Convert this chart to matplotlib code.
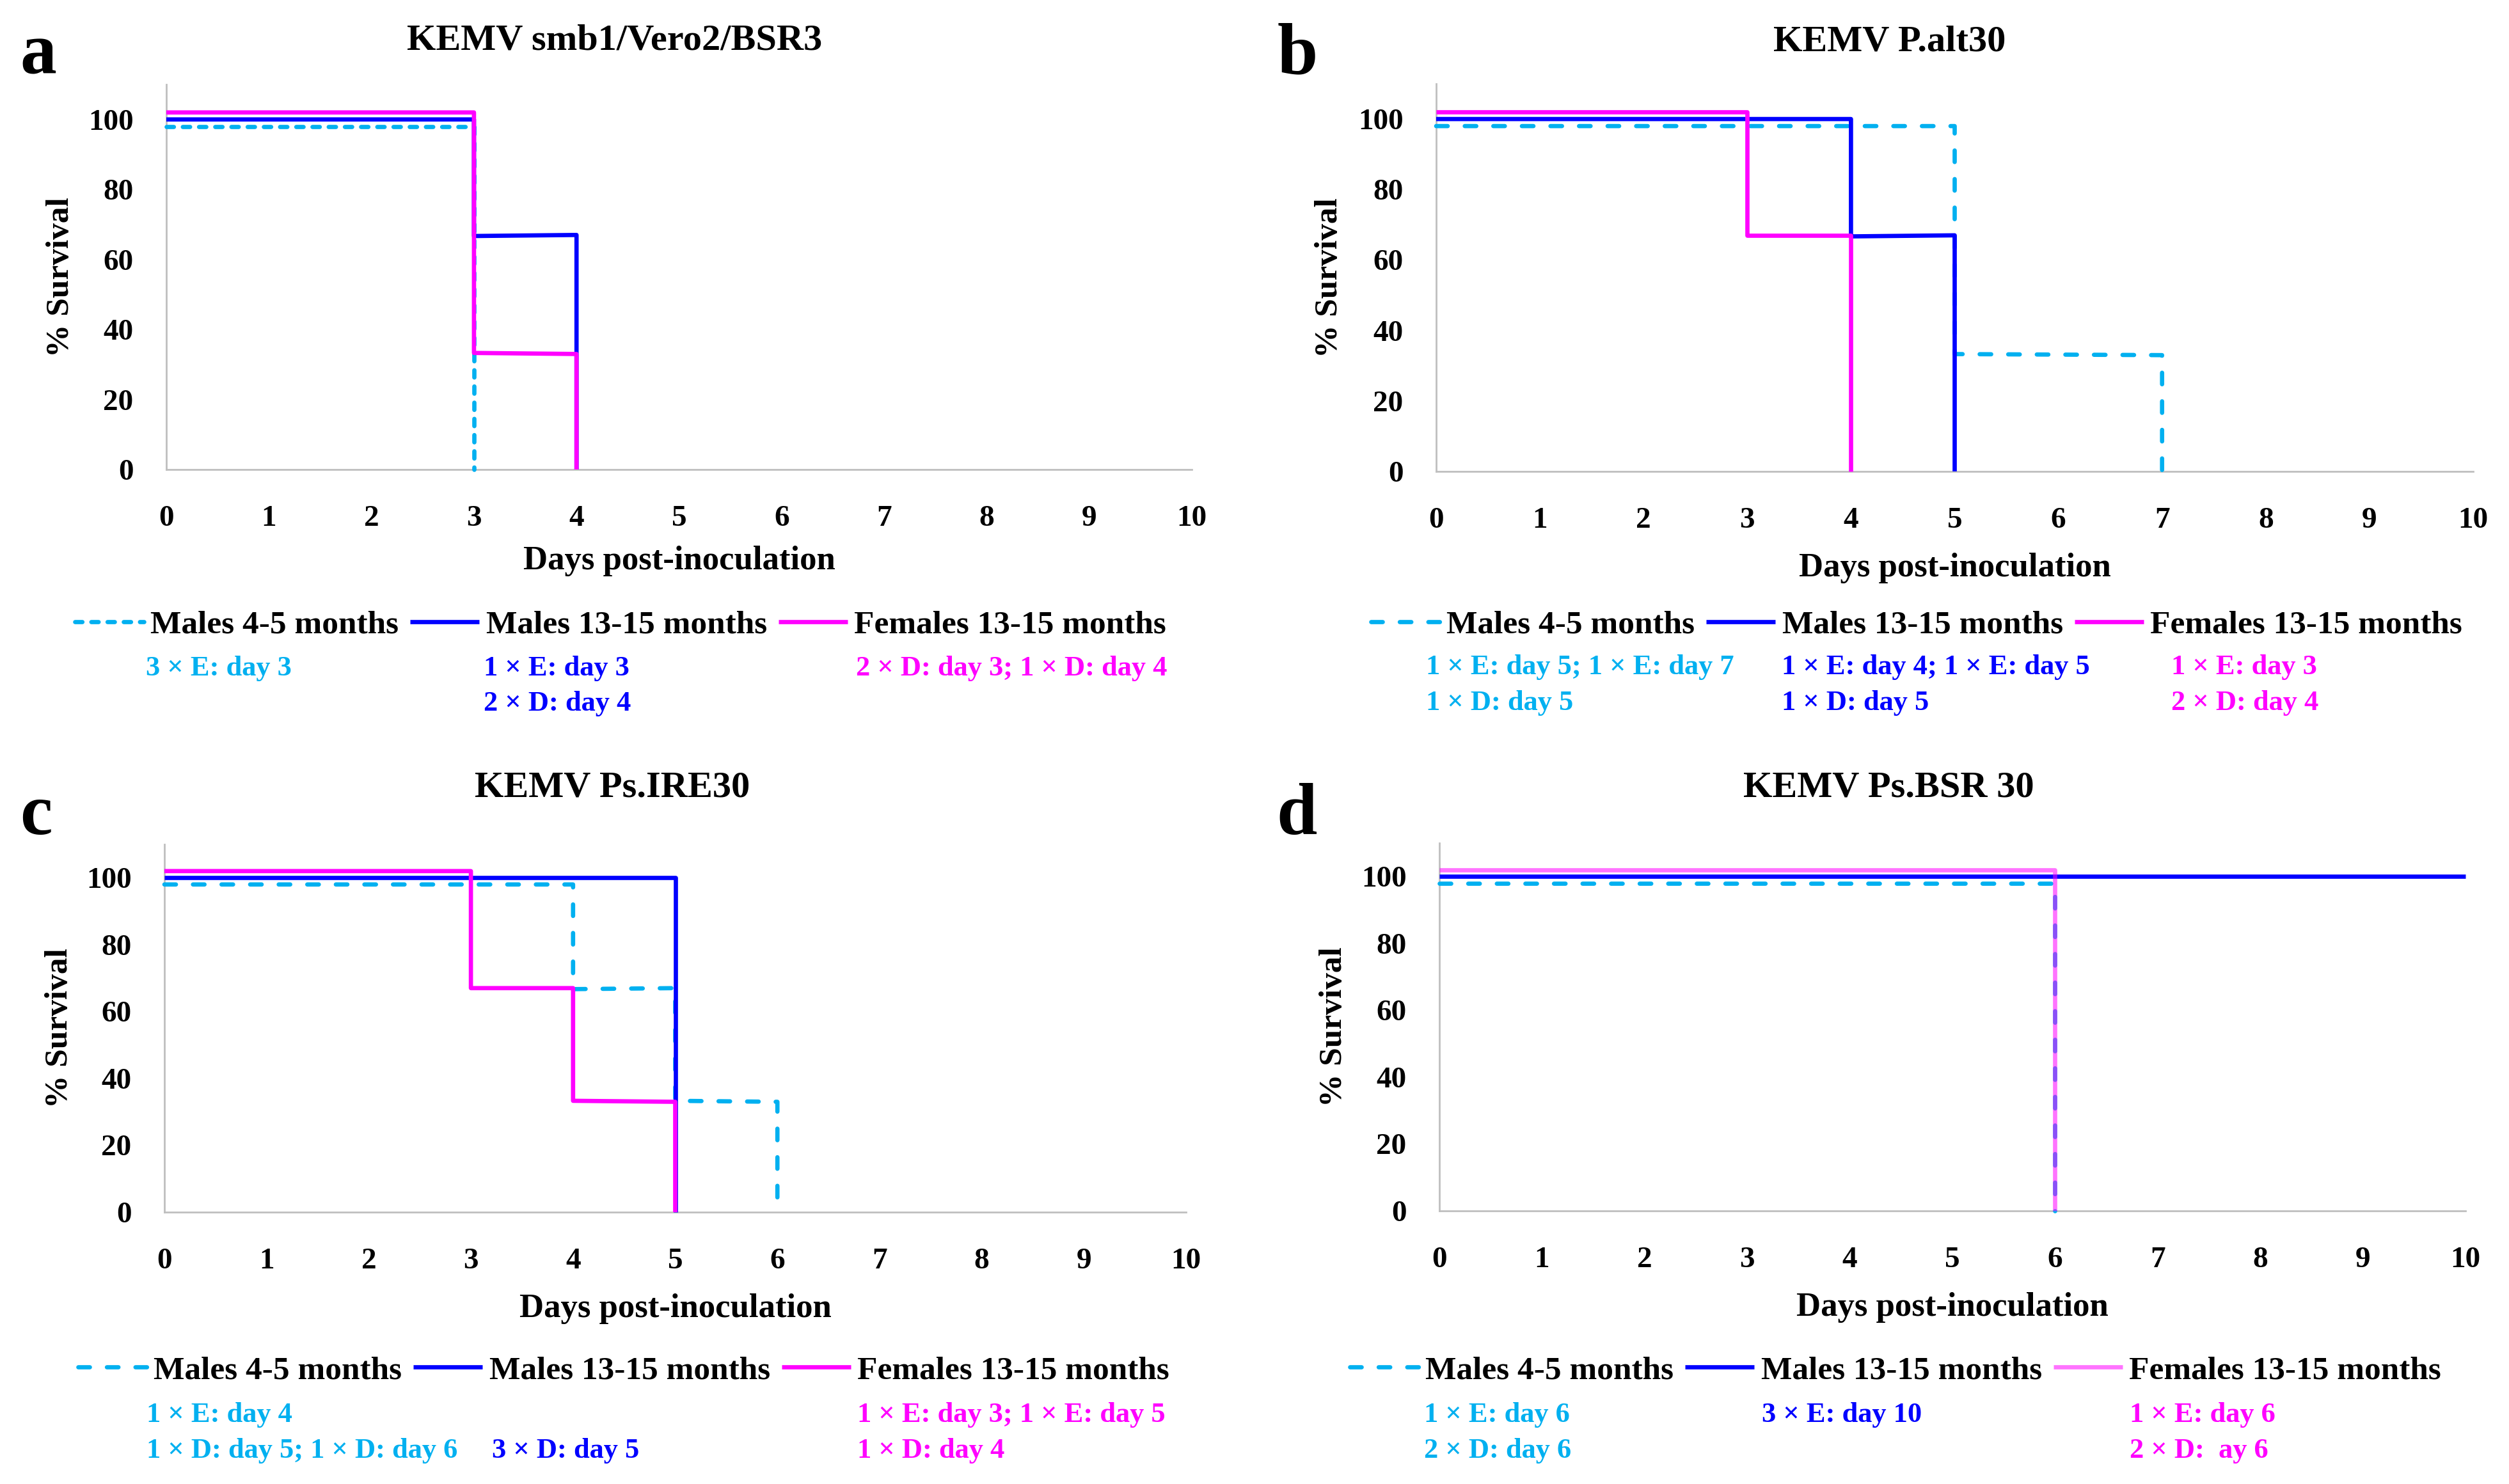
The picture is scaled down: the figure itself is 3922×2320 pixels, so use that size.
import matplotlib
matplotlib.use("Agg")
import matplotlib.pyplot as plt

plt.rcParams['font.family'] = ['Liberation Serif', 'DejaVu Serif']
plt.rcParams['font.weight'] = 'bold'
plt.rcParams['axes.labelweight'] = 'bold'

# survival data (days, % survival), small offsets keep overlapping lines visible
a_days_m45 = [0, 3, 3]
a_surv_m45 = [98, 98, 0]
a_days_m1315 = [0, 3, 3, 4, 4]
a_surv_m1315 = [100, 100, 66.7, 67, 0]
a_days_f1315 = [0, 3, 3, 4, 4]
a_surv_f1315 = [102, 102, 33.3, 33, 0]

b_days_m45 = [0, 5, 5, 7, 7]
b_surv_m45 = [98, 98, 33.3, 33, 0]
b_days_m1315 = [0, 4, 4, 5, 5]
b_surv_m1315 = [100, 100, 66.7, 67, 0]
b_days_f1315 = [0, 3, 3, 4, 4]
b_surv_f1315 = [102, 102, 67, 67, 0]

c_days_m45 = [0, 4, 4, 5, 5, 6, 6]
c_surv_m45 = [98, 98, 66.7, 67, 33.3, 33, 0]
c_days_m1315 = [0, 5, 5]
c_surv_m1315 = [100, 100, 0]
c_days_f1315 = [0, 3, 3, 4, 4, 5, 5]
c_surv_f1315 = [102, 102, 67, 67, 33.3, 33, 0]

d_days_m45 = [0, 6, 6]
d_surv_m45 = [98, 98, 0]
d_days_m1315 = [0, 10]
d_surv_m1315 = [100, 100]
d_days_f1315 = [0, 6, 6]
d_surv_f1315 = [102, 102, 0]

titles = ['KEMV smb1/Vero2/BSR3', 'KEMV P.alt30', 'KEMV Ps.IRE30', 'KEMV Ps.BSR 30']
letters = ['a', 'b', 'c', 'd']
groups = ['Males 4-5 months', 'Males 13-15 months', 'Females 13-15 months']

# outcome notes under each legend: (group index, line, text)
a_notes = [(0, 0, '3 × E: day 3'), (1, 0, '1 × E: day 3'), (1, 1, '2 × D: day 4'),
           (2, 0, '2 × D: day 3; 1 × D: day 4')]
b_notes = [(0, 0, '1 × E: day 5; 1 × E: day 7'), (0, 1, '1 × D: day 5'),
           (1, 0, '1 × E: day 4; 1 × E: day 5'), (1, 1, '1 × D: day 5'),
           (2, 0, '1 × E: day 3'), (2, 1, '2 × D: day 4')]
c_notes = [(0, 0, '1 × E: day 4'), (0, 1, '1 × D: day 5; 1 × D: day 6'),
           (1, 1, '3 × D: day 5'),
           (2, 0, '1 × E: day 3; 1 × E: day 5'), (2, 1, '1 × D: day 4')]
d_notes = [(0, 0, '1 × E: day 6'), (0, 1, '2 × D: day 6'),
           (1, 0, '3 × E: day 10'),
           (2, 0, '1 × E: day 6'), (2, 1, '2 × D:  ay 6')]

CYAN = '#00B0F0'
BLUE = '#0000FF'
MAGENTA = '#FF00FF'
GREY = '#BFBFBF'

W, H = 3923, 2320
fig = plt.figure(figsize=(W / 100, H / 100), dpi=100)


def px(x, y):
    return x / W, 1 - y / H


panels = [
    dict(data=[(a_days_m45, a_surv_m45), (a_days_m1315, a_surv_m1315), (a_days_f1315, a_surv_f1315)],
         box=(260, 1863, 734, 132), dash=(1.7, 2.1), falpha=1.0, notes=a_notes,
         title=(961, 63), letter=(31, 115), legend=(970, 977), xlab=877,
         note_x=(228, 756, 1338), note_y=(1045, 1100)),
    dict(data=[(b_days_m45, b_surv_m45), (b_days_m1315, b_surv_m1315), (b_days_f1315, b_surv_f1315)],
         box=(2245, 3866, 737, 131), dash=(2.7, 4.0), falpha=1.0, notes=b_notes,
         title=(2954, 65), letter=(1997, 115), legend=(2996, 977), xlab=888,
         note_x=(2229, 2785, 3394), note_y=(1043, 1099)),
    dict(data=[(c_days_m45, c_surv_m45), (c_days_m1315, c_surv_m1315), (c_days_f1315, c_surv_f1315)],
         box=(257, 1854, 1895, 1320), dash=(2.7, 4.0), falpha=1.0, notes=c_notes,
         title=(957, 1232), letter=(31, 1304), legend=(975, 2143), xlab=2046,
         note_x=(229, 769, 1340), note_y=(2212, 2268)),
    dict(data=[(d_days_m45, d_surv_m45), (d_days_m1315, d_surv_m1315), (d_days_f1315, d_surv_f1315)],
         box=(2250, 3854, 1893, 1318), dash=(2.7, 4.0), falpha=0.55, notes=d_notes,
         title=(2952, 1232), letter=(1995, 1304), legend=(2963, 2143), xlab=2044,
         note_x=(2226, 2754, 3329), note_y=(2212, 2268)),
]

for i, p in enumerate(panels):
    x0, x1, yb, yt = p['box']
    ax = fig.add_axes([x0 / W, 1 - yb / H, (x1 - x0) / W, (yb - yt) / H])
    (dm, sm), (db, sb), (df, sf) = p['data']
    l1, = ax.plot(dm, sm, color=CYAN, lw=4.8, ls=(0, p['dash']), dash_capstyle='round',
                  solid_joinstyle='round', clip_on=False, label=groups[0])
    l2, = ax.plot(db, sb, color=BLUE, lw=4.8, solid_joinstyle='round', solid_capstyle='butt',
                  clip_on=False, label=groups[1])
    l3, = ax.plot(df, sf, color=MAGENTA, lw=4.8, alpha=p['falpha'], solid_joinstyle='round',
                  solid_capstyle='butt', clip_on=False, label=groups[2])

    ax.set_xlim(0, 10)
    ax.set_ylim(0, 110)
    ax.set_xticks(range(0, 11))
    ax.set_yticks(range(0, 101, 20))
    ax.tick_params(length=0, labelsize=34)
    ax.tick_params(axis='x', pad=40)
    ax.tick_params(axis='y', pad=37)
    for s in ['top', 'right']:
        ax.spines[s].set_visible(False)
    for s in ['left', 'bottom']:
        ax.spines[s].set_color(GREY)
        ax.spines[s].set_linewidth(2)
    ax.spines['left'].set_zorder(0.5)
    ax.spines['bottom'].set_zorder(0.5)

    ax.set_xlabel('Days post-inoculation', fontsize=38, fontweight='bold', va='center')
    ax.xaxis.set_label_coords(0.5, -(p['xlab'] - yb) / (yb - yt))
    ax.set_ylabel('% Survival', fontsize=37, fontweight='bold', va='center')
    ax.yaxis.set_label_coords(-0.103, 0.5)

    tx, ty = px(*p['title'])
    fig.text(tx, ty, titles[i], fontsize=42, fontweight='bold', ha='center', va='center')
    lx, ly = px(*p['letter'])
    fig.text(lx, ly, letters[i], fontsize=82, fontweight='bold', ha='left', va='baseline')

    gx, gy = px(*p['legend'])
    ax.legend(handles=[l1, l2, l3], loc='center', bbox_to_anchor=(gx, gy),
              bbox_transform=fig.transFigure, ncol=3, frameon=False,
              prop={'size': 37, 'weight': 'bold'},
              handlelength=2.1, handletextpad=0.2, columnspacing=0.35,
              borderpad=0, borderaxespad=0)

    cols = [CYAN, BLUE, MAGENTA]
    for g, row, txt in p['notes']:
        nx, ny = px(p['note_x'][g], p['note_y'][row])
        fig.text(nx, ny, txt, fontsize=32, fontweight='bold', color=cols[g],
                 ha='left', va='center')

fig.savefig('out.png', dpi=100)
